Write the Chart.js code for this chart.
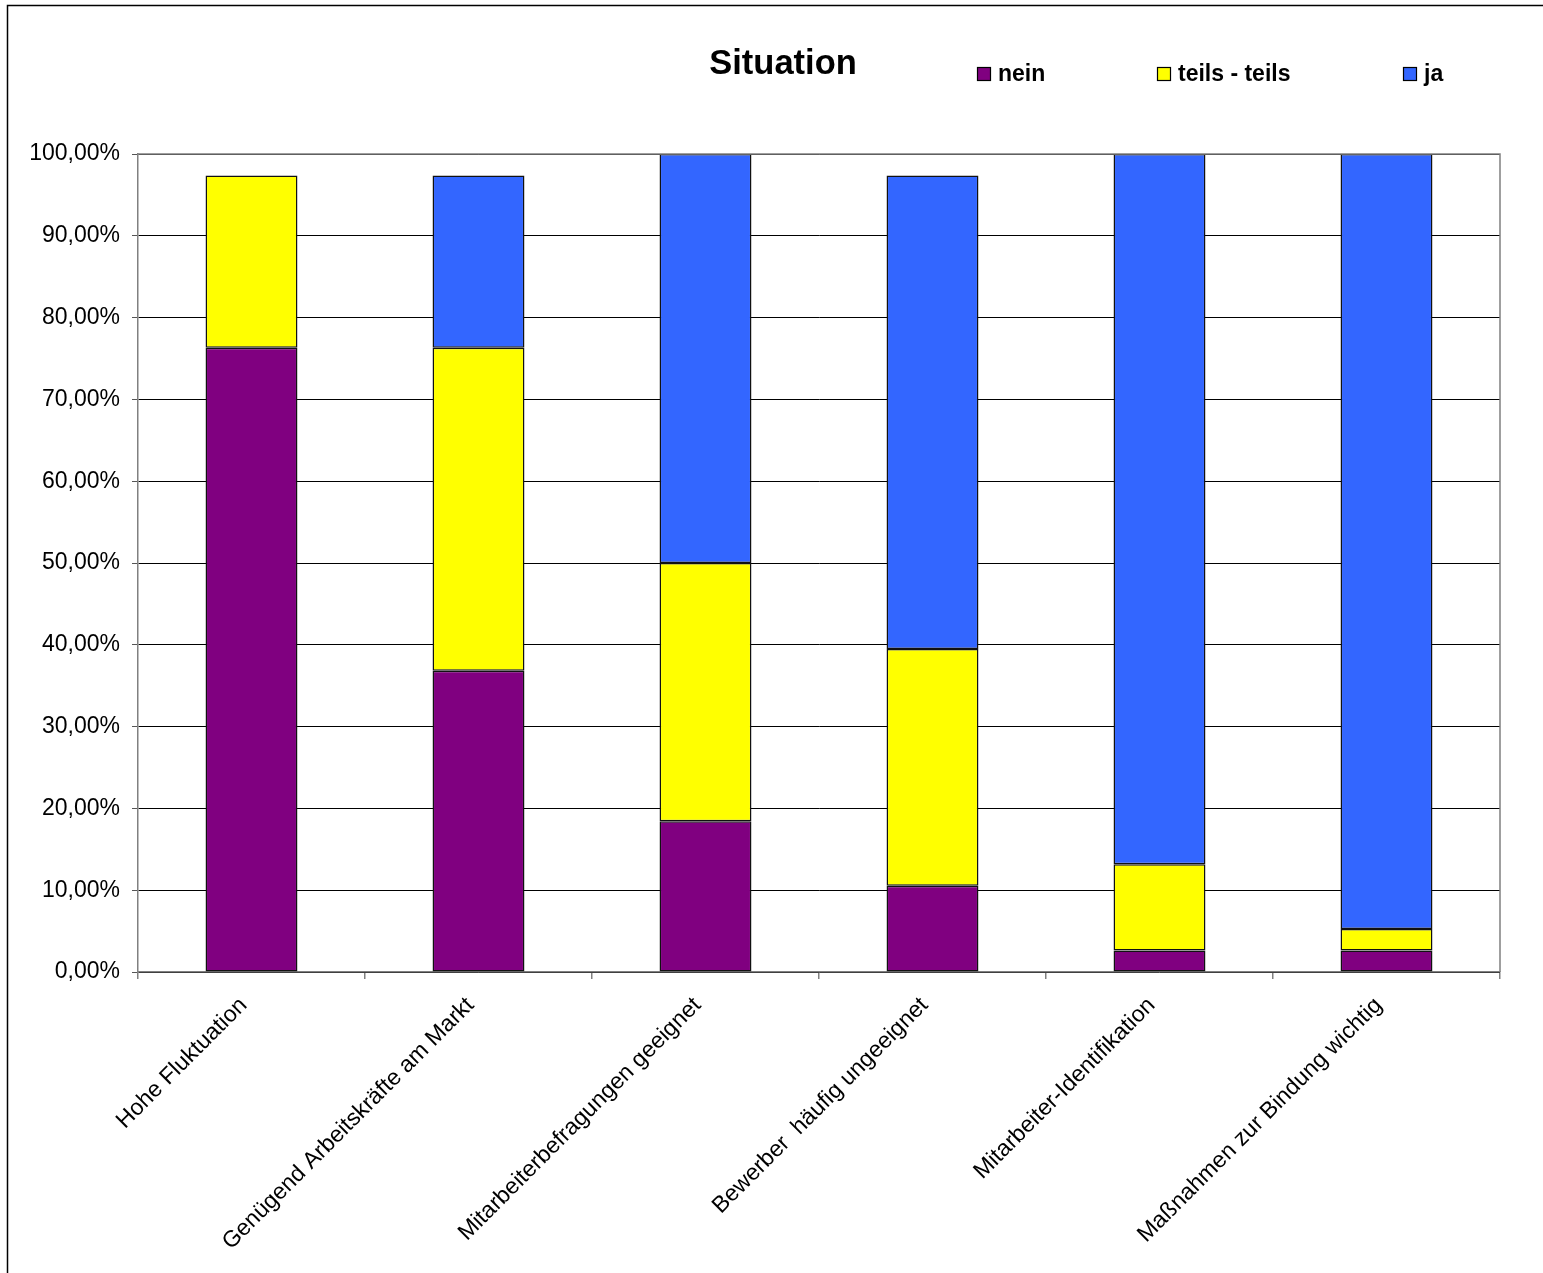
<!DOCTYPE html>
<html>
<head>
<meta charset="utf-8">
<title>Situation</title>
<script src="https://cdn.jsdelivr.net/npm/chart.js@4/dist/chart.umd.min.js"></script>
<style>
    html, body { margin: 0; padding: 0; background: #fff; }
    #wrap { position: relative; width: 1543px; height: 1273px; }
</style>
</head>
<body>
<div id="wrap"><canvas id="chart" width="1543" height="1273"></canvas></div>
<script>
// Situation - stacked bars, shares of answers

const categories = [
    'Hohe Fluktuation',
    'Genügend Arbeitskräfte am Markt',
    'Mitarbeiterbefragungen geeignet',
    'Bewerber  häufig ungeeignet',
    'Mitarbeiter-Identifikation',
    'Maßnahmen zur Bindung wichtig'
];

const neinValues = [76.32, 36.84, 18.42, 10.53, 2.63, 2.63];
const teilsValues = [21.05, 39.47, 31.58, 28.95, 10.53, 2.63];
const jaValues = [0, 21.05, 50.00, 57.89, 86.84, 94.74];

const yTicks = [0, 10, 20, 30, 40, 50, 60, 70, 80, 90, 100];

const seriesNames = ['nein', 'teils - teils', 'ja'];
const seriesColors = ['#800080', '#ffff00', '#3366ff'];
const legendX = [977, 1157, 1403];

const FONT = '"Liberation Sans", Arial, sans-serif';

function pct(v) {
    return v.toFixed(2).replace('.', ',') + '%';
}

// title, legend and outer frame
const decorPlugin = {
    id: 'decor',
    beforeDraw(chart) {
        const ctx = chart.ctx;
        ctx.save();
        ctx.fillStyle = '#fff';
        ctx.fillRect(0, 0, chart.width, chart.height);
        ctx.strokeStyle = '#000';
        ctx.lineWidth = 1.5;
        ctx.beginPath();
        ctx.moveTo(7.5, chart.height);
        ctx.lineTo(7.5, 5.5);
        ctx.lineTo(chart.width, 5.5);
        ctx.stroke();
        ctx.restore();
    },
    afterDatasetsDraw(chart) {
        const ctx = chart.ctx;
        const a = chart.chartArea;
        ctx.save();
        ctx.strokeStyle = '#808080';
        ctx.lineWidth = 1.5;
        ctx.beginPath();
        ctx.moveTo(a.left, a.top);
        ctx.lineTo(a.right, a.top);
        ctx.lineTo(a.right, a.bottom);
        ctx.stroke();

        ctx.fillStyle = '#000';
        ctx.font = 'bold 34.5px ' + FONT;
        ctx.textAlign = 'center';
        ctx.textBaseline = 'middle';
        ctx.fillText('Situation', 783, 64);

        ctx.font = 'bold 23px ' + FONT;
        ctx.textAlign = 'left';
        chart.data.datasets.forEach((ds, i) => {
            const x = legendX[i];
            ctx.fillStyle = ds.backgroundColor;
            ctx.fillRect(x, 67, 14, 14);
            ctx.strokeStyle = '#000';
            ctx.lineWidth = 1.2;
            ctx.strokeRect(x + 0.5, 67.5, 13, 13);
            ctx.fillStyle = '#000';
            ctx.fillText(ds.label, x + 21, 75);
        });
        ctx.restore();
    }
};

const datasets = [neinValues, teilsValues, jaValues].map((vals, i) => ({
    label: seriesNames[i],
    data: vals,
    backgroundColor: seriesColors[i],
    borderColor: '#111',
    borderWidth: 1.5,
    borderSkipped: false,
    categoryPercentage: 1,
    barPercentage: 0.405
}));

new Chart(document.getElementById('chart'), {
    type: 'bar',
    data: { labels: categories, datasets: datasets },
    plugins: [decorPlugin],
    options: {
        responsive: false,
        animation: false,
        layout: { padding: { top: 154, right: 43, left: 0, bottom: 0 } },
        plugins: {
            legend: { display: false },
            title: { display: false },
            tooltip: { enabled: false }
        },
        scales: {
            x: {
                stacked: true,
                offset: true,
                grid: {
                    offset: true,
                    drawOnChartArea: false,
                    drawTicks: true,
                    tickLength: 7,
                    color: '#808080',
                    lineWidth: 1.5
                },
                border: { color: '#808080', width: 1.5 },
                ticks: {
                    color: '#000',
                    font: { family: FONT, size: 23 },
                    minRotation: 45,
                    maxRotation: 45,
                    autoSkip: false,
                    padding: 13,
                    labelOffset: -8
                },
                afterFit(scale) { scale.height = 1273 - 972; }
            },
            y: {
                stacked: true,
                min: 0,
                max: 100,
                afterBuildTicks(scale) {
                    scale.ticks = yTicks.map(v => ({ value: v }));
                },
                grid: {
                    color: '#000',
                    lineWidth: 1,
                    drawTicks: true,
                    tickLength: 6,
                    tickColor: '#555'
                },
                border: { color: '#808080', width: 1.5 },
                ticks: {
                    color: '#000',
                    font: { family: FONT, size: 23 },
                    padding: 12,
                    callback: v => pct(v)
                },
                afterFit(scale) { scale.width = 138; }
            }
        }
    }
});
</script>
</body>
</html>
